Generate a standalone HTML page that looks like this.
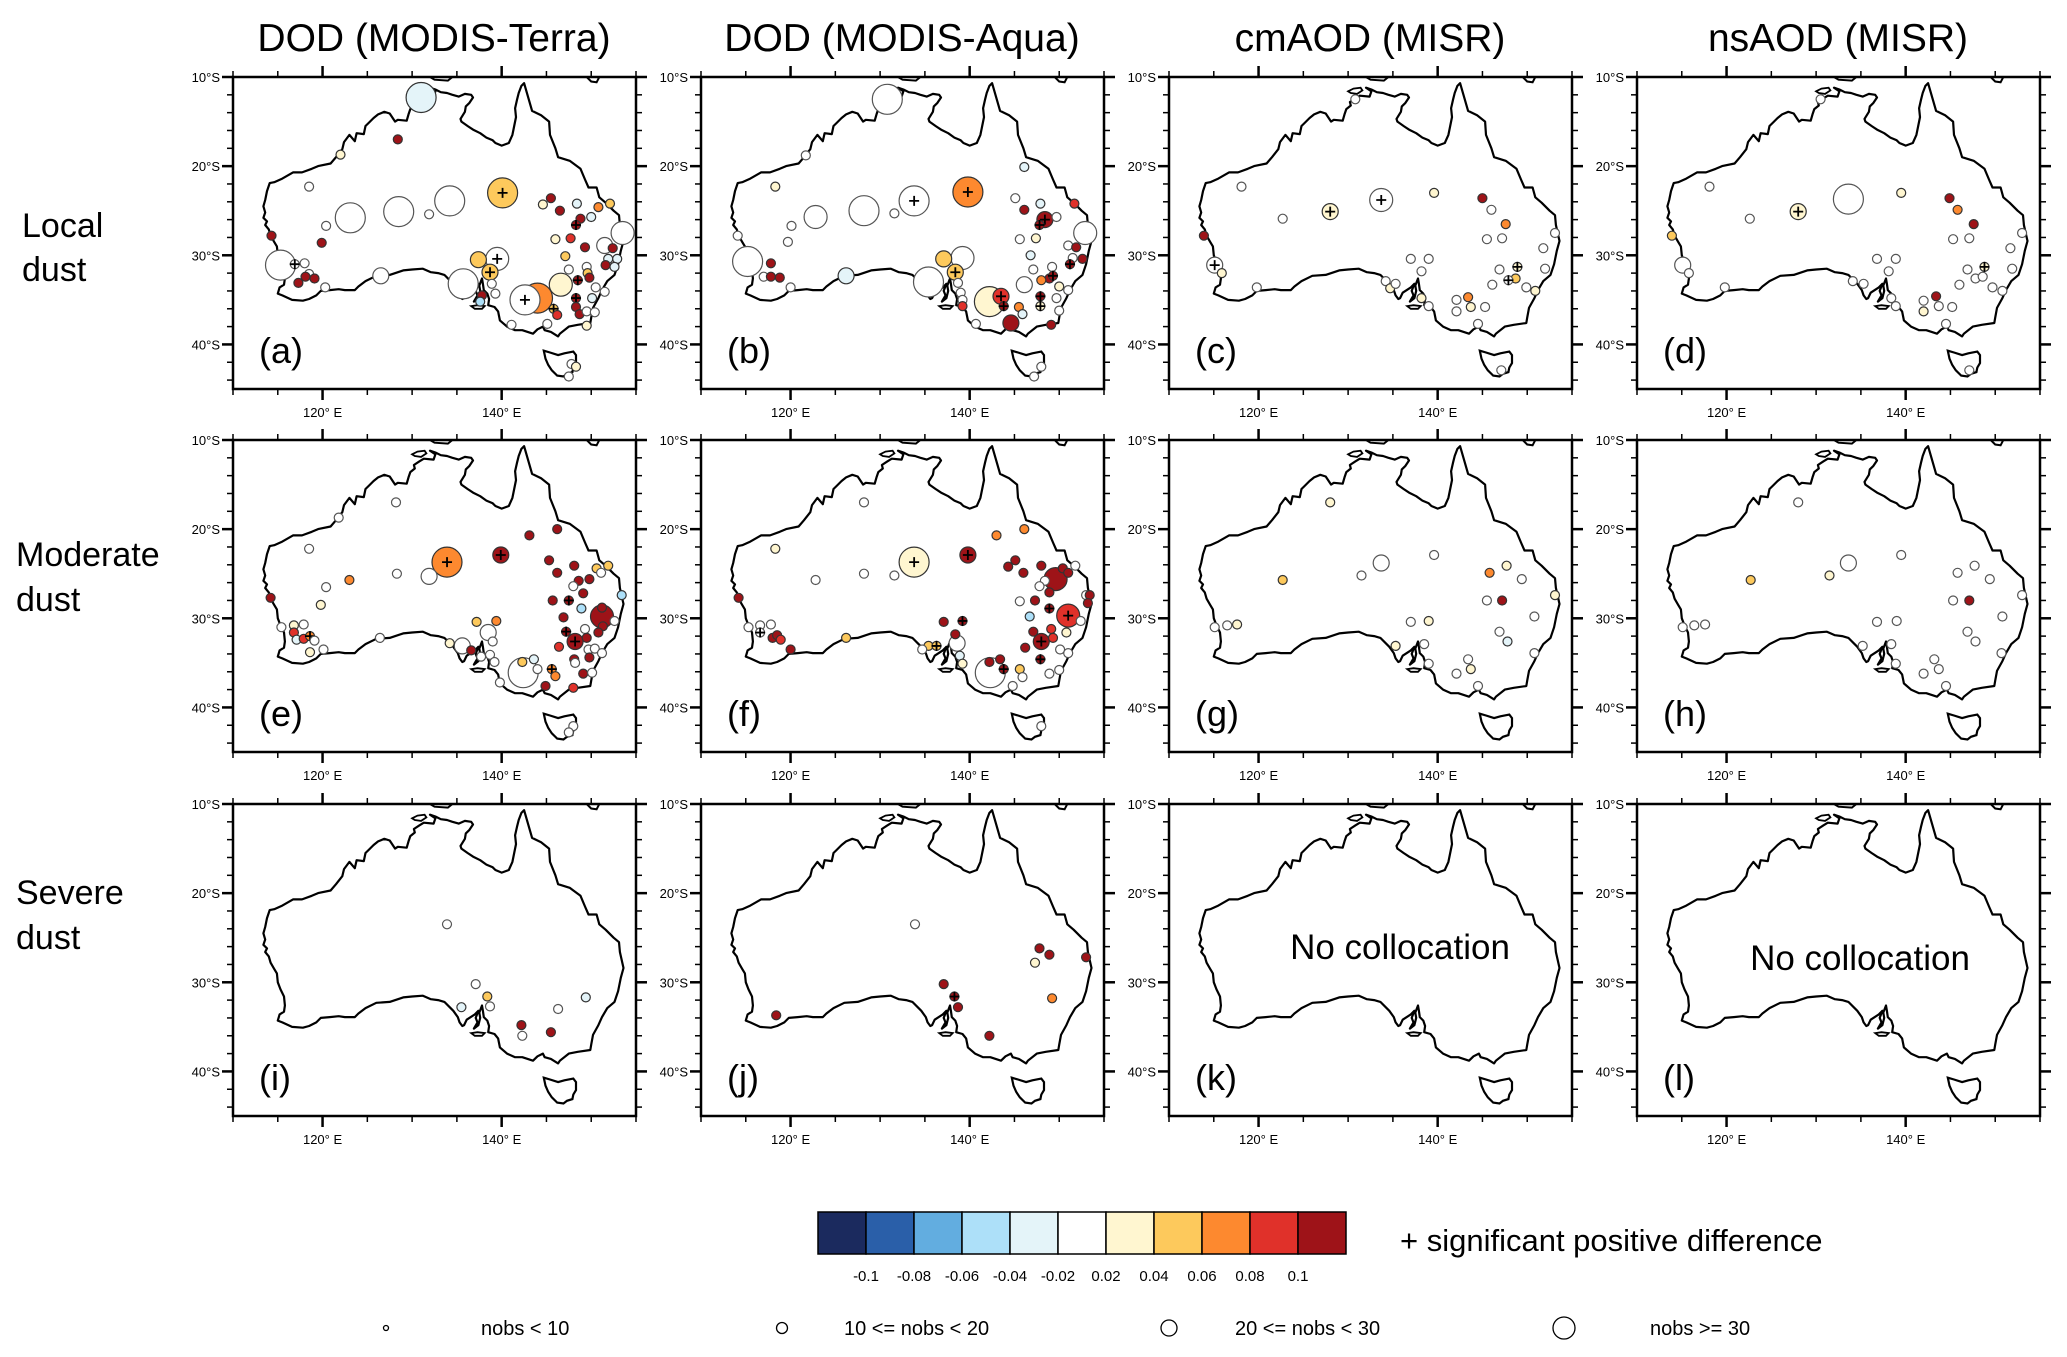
<!DOCTYPE html>
<html><head><meta charset="utf-8">
<style>
html,body{margin:0;padding:0;background:#fff;}
svg{display:block;font-family:"Liberation Sans",sans-serif;}
</style></head>
<body>
<svg id="fig" width="2067" height="1357" viewBox="0 0 2067 1357" xmlns="http://www.w3.org/2000/svg">
<g id="titles">
<text x="434" y="51" font-size="39" text-anchor="middle">DOD (MODIS-Terra)</text>
<text x="902" y="51" font-size="39" text-anchor="middle">DOD (MODIS-Aqua)</text>
<text x="1370" y="51" font-size="39" text-anchor="middle">cmAOD (MISR)</text>
<text x="1838" y="51" font-size="39" text-anchor="middle">nsAOD (MISR)</text>
</g>
<g>
<text x="22" y="237" font-size="34">Local</text>
<text x="22" y="281" font-size="34">dust</text>
<text x="16" y="566" font-size="34">Moderate</text>
<text x="16" y="611" font-size="34">dust</text>
<text x="16" y="904" font-size="34">Severe</text>
<text x="16" y="949" font-size="34">dust</text>
</g>
<g id="panels"></g>
<g id="legend"></g>
</svg>
<script>
const NS = "http://www.w3.org/2000/svg";
const colorClasses = ['#1b2a5e','#2a5fa9','#62ade0','#ade0f9','#e4f4f9','#ffffff','#fff6d0','#fdc95c','#fd892f','#e0312a','#9e1318'];
const colorTickLabels = ['-0.1','-0.08','-0.06','-0.04','-0.02','0.02','0.04','0.06','0.08','0.1'];
const sizeLabels = ['nobs < 10','10 <= nobs < 20','20 <= nobs < 30','nobs >= 30'];
const panelLetters = ['a','b','c','d','e','f','g','h','i','j','k','l'];
const latTicks = [10,12,14,16,18,20,22,24,26,28,30,32,34,36,38,40,42,44];
const lonTicks = [110,115,120,125,130,135,140,145,150,155];

// [lon, latS, colorClass, sizeClass, significant]
const dataA = [[131.0,12.3,4,3,0],[128.4,17.0,10,0,0],[122.0,18.7,6,0,0],[118.5,22.3,5,0,0],[123.1,25.8,5,3,0],[128.5,25.1,5,3,0],[134.2,23.9,5,3,0],[131.9,25.4,5,0,0],[120.4,26.7,5,0,0],[119.9,28.6,10,0,0],[114.3,27.8,10,0,0],[115.3,31.1,5,3,0],[116.9,31.0,5,0,1],[118.0,30.9,5,0,0],[117.3,33.1,10,0,0],[118.5,32.1,5,0,0],[118.1,32.4,10,0,0],[119.1,32.6,10,0,0],[120.3,33.6,5,0,0],[126.5,32.3,5,1,0],[140.1,23.0,7,3,1],[145.5,23.6,10,0,0],[146.5,25.0,10,0,0],[144.6,24.3,6,0,0],[148.4,24.2,4,0,0],[150.8,24.6,8,0,0],[152.1,24.2,7,0,0],[148.8,25.9,10,0,0],[148.3,26.6,10,0,1],[150.0,25.7,4,0,0],[153.5,27.5,5,2,0],[146.0,28.2,6,0,0],[147.7,28.1,9,0,0],[149.3,29.1,10,0,0],[151.5,28.9,5,1,0],[152.4,29.2,10,0,0],[147.1,30.1,7,0,0],[151.9,30.4,4,0,0],[152.9,30.4,4,0,0],[152.6,31.3,4,0,0],[151.6,31.1,10,0,0],[139.5,30.4,5,2,1],[137.4,30.5,7,1,0],[138.7,31.9,7,1,1],[147.5,31.6,5,0,0],[149.5,31.3,5,0,0],[149.6,32.0,7,0,0],[149.8,32.5,10,0,0],[148.5,32.8,10,0,1],[146.6,33.3,6,2,0],[135.7,33.2,5,3,0],[138.9,33.2,5,0,0],[139.3,34.3,5,0,0],[137.8,34.5,10,0,0],[137.6,35.2,3,0,0],[144.0,34.8,8,3,0],[142.6,35.0,5,3,1],[150.5,33.6,5,0,0],[151.5,34.1,5,0,0],[150.1,34.8,4,0,0],[148.3,34.8,10,0,1],[148.3,35.8,10,0,0],[145.8,36.0,7,0,1],[146.2,36.7,9,0,0],[148.7,36.6,10,0,0],[149.5,36.3,5,0,0],[150.4,36.4,5,0,0],[141.1,37.8,5,0,0],[145.1,37.7,5,0,0],[149.5,37.9,6,0,0],[147.8,42.2,5,0,0],[148.3,42.5,6,0,0],[147.5,43.6,5,0,0]];
const dataB = [[130.8,12.5,5,3,0],[121.7,18.8,5,0,0],[118.3,22.3,6,0,0],[122.8,25.7,5,2,0],[128.2,25.0,5,3,0],[133.8,23.9,5,3,1],[131.6,25.3,5,0,0],[139.8,22.9,8,3,1],[120.1,26.7,5,0,0],[119.7,28.5,5,0,0],[114.1,27.8,5,0,0],[115.2,30.7,5,3,0],[117.8,30.9,10,0,0],[117.0,32.4,5,0,0],[117.8,32.4,10,0,0],[118.8,32.5,10,0,0],[120.0,33.6,5,0,0],[126.2,32.3,4,1,0],[146.1,20.1,4,0,0],[145.1,23.6,5,0,0],[147.9,24.2,4,0,0],[146.1,24.9,10,0,0],[151.7,24.2,9,0,0],[148.4,26.0,10,1,1],[147.8,26.6,10,0,1],[149.7,25.7,5,0,0],[152.9,27.5,5,2,0],[145.6,28.2,5,0,0],[147.4,28.1,6,0,0],[151.0,28.9,5,0,0],[151.9,29.1,10,0,0],[152.6,30.4,10,0,0],[151.5,30.3,5,0,0],[146.8,30.0,4,0,0],[151.2,31.0,10,0,1],[137.1,30.4,7,1,0],[139.2,30.3,5,2,0],[138.4,31.9,7,1,1],[135.4,33.0,5,3,0],[147.1,31.6,5,0,0],[149.2,31.3,5,0,0],[148.9,32.6,10,0,0],[149.3,32.3,10,0,1],[148.0,32.8,8,0,0],[146.1,33.3,5,1,0],[150.0,33.5,6,0,0],[151.0,33.9,5,0,0],[138.7,33.1,5,0,0],[139.0,34.2,5,0,0],[139.2,35.0,5,0,0],[139.2,35.7,9,0,0],[143.5,34.6,9,1,1],[142.2,35.2,6,3,0],[143.8,35.7,10,0,1],[147.9,34.6,10,0,1],[147.9,35.7,6,0,1],[149.7,34.8,5,0,0],[145.5,35.8,8,0,0],[145.9,36.6,4,0,0],[150.0,36.2,5,0,0],[144.6,37.6,10,1,0],[140.7,37.7,5,0,0],[149.1,37.8,10,0,0],[148.0,42.5,5,0,0],[147.2,43.6,5,0,0]];
const dataC = [[118.1,22.3,5,0,0],[122.7,25.9,5,0,0],[128.0,25.1,6,1,1],[133.7,23.8,5,2,1],[139.6,23.0,6,0,0],[145.0,23.6,10,0,0],[146.0,24.9,5,0,0],[147.6,26.5,8,0,0],[145.5,28.2,5,0,0],[147.2,28.1,5,0,0],[153.1,27.5,5,0,0],[151.8,29.2,5,0,0],[113.9,27.8,10,0,0],[115.1,31.1,5,1,1],[115.9,32.0,6,0,0],[119.8,33.6,5,0,0],[130.8,12.5,5,0,0],[137.0,30.4,5,0,0],[139.0,30.4,5,0,0],[138.2,31.8,5,0,0],[146.9,31.6,5,0,0],[148.9,31.3,6,0,1],[152.0,31.5,5,0,0],[148.7,32.6,7,0,0],[147.9,32.8,5,0,1],[146.1,33.3,5,0,0],[149.9,33.6,5,0,0],[150.9,34.0,6,0,0],[134.2,32.9,5,0,0],[134.7,33.7,6,0,0],[135.3,33.2,5,0,0],[138.2,34.8,6,0,0],[139.0,35.7,5,0,0],[142.1,35.0,5,0,0],[143.4,34.7,8,0,0],[142.1,36.3,5,0,0],[143.7,35.8,6,0,0],[145.3,35.8,5,0,0],[144.5,37.7,5,0,0],[147.1,42.9,5,0,0]];
const dataD = [[118.1,22.3,5,0,0],[122.6,25.9,5,0,0],[128.0,25.1,6,1,1],[133.6,23.7,5,3,0],[139.5,23.0,6,0,0],[144.9,23.6,10,0,0],[145.8,24.9,8,0,0],[147.6,26.5,10,0,0],[145.3,28.2,5,0,0],[147.1,28.1,5,0,0],[153.0,27.5,5,0,0],[151.7,29.2,5,0,0],[113.9,27.8,7,0,0],[115.1,31.1,5,1,0],[115.8,32.0,5,0,0],[119.8,33.6,5,0,0],[130.5,12.5,5,0,0],[136.8,30.4,5,0,0],[138.9,30.4,5,0,0],[138.1,31.8,5,0,0],[146.9,31.6,5,0,0],[148.8,31.3,6,0,1],[151.9,31.5,5,0,0],[147.8,32.6,5,0,0],[148.6,32.4,5,0,0],[146.0,33.3,5,0,0],[149.7,33.6,5,0,0],[150.8,34.0,5,0,0],[134.1,32.9,5,0,0],[135.3,33.2,5,0,0],[138.4,34.8,5,0,0],[138.9,35.7,5,0,0],[142.0,35.1,5,0,0],[143.4,34.6,10,0,0],[143.7,35.7,5,0,0],[142.0,36.3,6,0,0],[145.2,35.8,5,0,0],[144.5,37.7,5,0,0],[147.1,42.9,5,0,0]];
const dataE = [[128.2,17.0,5,0,0],[121.8,18.7,5,0,0],[118.5,22.2,5,0,0],[133.9,23.7,8,3,1],[131.9,25.3,5,1,0],[128.3,25.0,5,0,0],[123.0,25.7,8,0,0],[120.4,26.5,5,0,0],[119.8,28.5,6,0,0],[114.2,27.7,10,0,0],[115.4,31.0,5,0,0],[116.8,30.8,6,0,0],[117.9,30.7,5,0,0],[116.8,31.6,9,0,0],[117.1,32.4,4,0,0],[117.9,32.3,9,0,0],[118.6,32.0,8,0,1],[119.1,32.5,5,0,0],[118.6,33.8,6,0,0],[120.1,33.5,5,0,0],[126.4,32.2,5,0,0],[139.9,22.9,10,1,1],[143.1,20.7,10,0,0],[146.2,20.0,10,0,0],[145.3,23.5,10,0,0],[148.1,24.1,10,0,0],[146.2,24.9,10,0,0],[150.6,24.4,7,0,0],[151.9,24.1,7,0,0],[151.1,24.9,5,0,0],[148.6,25.8,10,0,0],[149.8,25.6,10,0,0],[148.0,26.4,5,0,0],[149.1,27.2,10,0,0],[153.4,27.4,3,0,0],[145.7,28.0,10,0,0],[147.5,28.0,10,0,1],[148.9,28.9,3,0,0],[151.2,28.8,10,0,0],[151.2,29.8,10,2,0],[146.9,29.9,10,0,0],[152.6,30.3,5,0,0],[151.3,30.9,10,0,0],[150.8,31.6,10,0,0],[147.2,31.5,10,0,1],[149.3,31.2,5,0,0],[149.5,32.2,10,0,0],[148.2,32.6,10,1,1],[146.4,33.2,9,0,0],[149.7,33.5,5,0,0],[150.4,33.4,5,0,0],[151.2,33.9,5,0,0],[149.8,34.4,10,0,0],[148.1,34.6,10,0,0],[148.2,35.0,5,0,0],[137.2,30.4,7,0,0],[139.4,30.3,8,0,0],[138.5,31.6,5,1,0],[139.0,32.6,5,0,0],[135.6,33.1,5,1,0],[134.2,32.8,6,0,0],[136.6,33.6,10,0,0],[137.7,34.3,5,0,0],[138.7,34.1,5,0,0],[139.2,34.9,5,0,0],[142.3,34.9,7,0,0],[142.4,36.1,5,3,0],[143.6,34.6,4,0,0],[144.0,35.7,5,0,0],[145.6,35.7,8,0,1],[146.0,36.5,8,0,0],[149.1,36.2,10,0,0],[150.1,36.1,5,0,0],[144.9,37.6,10,0,0],[148.0,37.8,9,0,0],[139.8,37.2,5,0,0],[148.0,42.1,5,0,0],[147.5,42.8,5,0,0]];
const dataF = [[128.2,17.0,5,0,0],[118.3,22.2,6,0,0],[133.8,23.7,6,3,1],[131.6,25.2,5,0,0],[128.2,25.0,5,0,0],[122.8,25.7,5,0,0],[139.8,22.9,10,1,1],[143.0,20.7,8,0,0],[146.1,20.0,8,0,0],[114.2,27.7,10,0,0],[115.3,31.0,5,0,0],[116.6,30.8,5,0,0],[117.8,30.7,5,0,0],[116.6,31.6,5,0,1],[118.0,32.2,10,0,0],[118.5,31.9,10,0,0],[118.9,32.4,9,0,0],[120.0,33.5,10,0,0],[126.2,32.2,7,0,0],[145.1,23.5,10,0,0],[148.0,24.1,10,0,0],[144.3,24.2,10,0,0],[146.0,24.9,10,0,0],[150.4,24.4,10,0,0],[151.0,24.9,10,0,0],[151.8,24.1,5,0,0],[149.6,25.6,10,2,0],[148.4,25.8,5,0,0],[147.8,26.4,5,0,0],[148.9,27.1,10,0,0],[153.0,27.4,5,0,0],[153.4,27.4,10,0,0],[153.2,28.3,10,0,0],[145.6,28.1,5,0,0],[147.3,28.0,10,0,0],[148.9,28.9,10,0,1],[151.0,29.7,9,2,1],[152.4,30.3,5,0,0],[146.7,29.8,3,0,0],[137.1,30.4,10,0,0],[139.2,30.3,10,0,1],[138.4,31.8,10,0,0],[147.1,31.5,10,0,0],[149.1,31.2,9,0,0],[150.8,31.6,6,0,0],[148.0,32.6,10,1,1],[149.3,32.2,9,0,0],[146.2,33.3,10,0,0],[150.1,33.5,5,0,0],[151.0,33.9,5,0,0],[138.6,32.8,5,1,0],[135.4,33.1,7,0,0],[136.3,33.1,7,0,1],[134.7,33.5,5,0,0],[138.9,34.2,4,0,0],[139.2,35.1,6,0,0],[142.2,34.9,10,0,0],[143.4,34.6,10,0,0],[143.8,35.7,10,0,1],[142.3,36.1,5,3,0],[145.6,35.7,7,0,0],[145.9,36.6,5,0,0],[147.9,34.6,10,0,1],[148.9,36.2,5,0,0],[150.0,35.8,5,0,0],[144.8,37.6,5,0,0],[148.0,42.1,5,0,0]];
const dataG = [[128.0,17.0,6,0,0],[139.6,22.9,5,0,0],[133.7,23.8,5,1,0],[131.5,25.2,5,0,0],[122.7,25.7,7,0,0],[145.8,24.9,8,0,0],[147.7,24.1,6,0,0],[149.4,25.6,5,0,0],[153.1,27.4,6,0,0],[145.5,28.0,5,0,0],[147.2,28.0,10,0,0],[150.8,29.8,5,0,0],[115.1,31.0,5,0,0],[116.5,30.8,5,0,0],[117.6,30.7,6,0,0],[137.0,30.4,5,0,0],[139.0,30.3,6,0,0],[146.9,31.5,5,0,0],[147.8,32.6,4,0,0],[135.3,33.1,6,0,0],[138.5,32.9,5,0,0],[139.0,35.1,5,0,0],[143.4,34.6,5,0,0],[143.7,35.7,6,0,0],[142.1,36.2,5,0,0],[144.5,37.6,5,0,0],[150.8,33.9,5,0,0]];
const dataH = [[128.0,17.0,5,0,0],[139.5,22.9,5,0,0],[133.6,23.8,5,1,0],[131.5,25.2,6,0,0],[122.7,25.7,7,0,0],[145.8,24.9,5,0,0],[147.7,24.1,5,0,0],[149.4,25.6,5,0,0],[153.0,27.4,5,0,0],[145.3,28.0,5,0,0],[147.1,28.0,10,0,0],[150.8,29.8,5,0,0],[115.1,31.0,5,0,0],[116.4,30.8,5,0,0],[117.6,30.7,5,0,0],[136.8,30.4,5,0,0],[139.0,30.3,5,0,0],[146.9,31.5,5,0,0],[147.8,32.6,5,0,0],[135.2,33.1,5,0,0],[138.4,32.9,5,0,0],[138.9,35.1,5,0,0],[143.2,34.6,5,0,0],[143.7,35.7,5,0,0],[142.0,36.2,5,0,0],[144.5,37.6,5,0,0],[150.7,33.9,5,0,0]];
const dataI = [[133.9,23.5,5,0,0],[137.1,30.2,5,0,0],[138.4,31.6,7,0,0],[135.5,32.8,4,0,0],[138.7,32.7,5,0,0],[149.4,31.7,4,0,0],[146.3,33.0,5,0,0],[142.2,34.8,10,0,0],[145.5,35.6,10,0,0],[142.3,36.0,5,0,0]];
const dataJ = [[133.9,23.5,5,0,0],[147.8,26.2,10,0,0],[148.9,26.9,10,0,0],[153.0,27.2,10,0,0],[147.3,27.8,6,0,0],[137.1,30.2,10,0,0],[138.3,31.6,10,0,1],[138.7,32.8,10,0,0],[149.2,31.8,8,0,0],[118.4,33.7,10,0,0],[142.2,36.0,10,0,0]];
const dataK = [];
const dataL = [];
const allData = [dataA,dataB,dataC,dataD,dataE,dataF,dataG,dataH,dataI,dataJ,dataK,dataL];

const coast = [[142.5,10.7],[143.4,13.8],[144.4,14.3],[145.3,15.0],[145.4,16.5],[146.0,18.0],[146.3,19.0],[147.6,19.4],[148.8,20.3],[149.3,21.5],[149.7,22.4],[150.6,22.4],[150.9,23.5],[151.6,24.1],[152.5,25.0],[153.1,25.5],[153.2,26.6],[153.6,28.4],[153.3,29.5],[153.0,31.0],[152.6,32.2],[151.8,32.9],[151.2,33.9],[150.8,34.8],[150.2,35.9],[150.0,37.0],[149.9,37.6],[148.5,37.8],[147.5,38.0],[146.5,38.8],[146.3,39.1],[145.5,38.6],[144.8,38.4],[144.6,38.0],[144.0,38.3],[143.5,38.8],[142.3,38.4],[141.5,38.4],[140.6,38.0],[139.8,37.3],[139.6,36.3],[139.2,35.8],[138.5,35.6],[138.6,34.9],[138.4,34.3],[138.0,33.9],[137.9,33.2],[137.8,32.6],[137.5,33.4],[137.6,34.0],[137.4,34.8],[136.9,35.2],[137.3,34.5],[137.1,34.0],[137.4,33.2],[137.0,33.6],[136.1,34.2],[135.8,34.8],[135.6,34.9],[135.3,34.5],[135.1,33.9],[134.6,33.2],[134.2,32.8],[133.6,32.2],[132.9,32.0],[132.1,31.9],[131.2,31.5],[130.0,31.6],[129.0,31.7],[127.5,32.2],[126.0,32.3],[124.8,32.9],[124.0,33.5],[123.6,33.9],[122.5,33.9],[121.8,33.8],[120.8,33.9],[119.8,34.0],[119.3,34.5],[118.5,34.9],[117.8,35.1],[116.6,35.0],[115.5,34.5],[115.0,34.3],[115.2,33.6],[115.7,33.3],[115.8,32.6],[115.7,31.6],[115.3,30.8],[115.0,30.0],[114.9,29.0],[114.6,28.5],[114.2,27.8],[114.0,27.1],[113.6,26.6],[113.8,26.2],[113.4,25.8],[113.6,25.2],[113.4,24.5],[113.6,23.8],[113.8,22.8],[114.1,21.9],[114.6,21.8],[115.5,21.4],[116.7,20.7],[117.7,20.7],[118.8,20.3],[119.5,20.0],[120.9,19.7],[121.5,19.0],[122.2,18.1],[122.4,17.3],[123.0,16.5],[123.6,17.2],[123.8,16.3],[124.6,16.4],[124.8,15.5],[125.2,15.1],[125.7,14.6],[126.2,14.2],[126.9,13.9],[127.5,14.1],[128.1,15.0],[128.4,14.8],[129.4,14.9],[129.6,14.2],[129.8,13.6],[130.3,13.2],[130.2,12.8],[130.8,12.4],[131.3,12.1],[132.4,12.2],[132.6,11.6],[132.0,11.2],[132.6,11.4],[133.2,11.7],[133.9,11.8],[134.5,12.0],[135.2,12.2],[135.9,11.9],[136.6,12.0],[136.8,12.3],[136.4,12.9],[136.0,13.3],[135.9,13.9],[135.4,14.7],[135.5,15.0],[136.2,15.5],[136.8,15.9],[137.6,16.3],[138.3,16.8],[139.0,17.1],[139.3,17.4],[140.0,17.7],[140.8,17.4],[141.2,16.5],[141.4,15.5],[141.6,14.5],[141.5,13.5],[141.7,12.6],[141.9,11.8],[142.2,11.0],[142.5,10.7]];
const tasmania = [[144.7,40.7],[145.4,40.9],[146.3,41.2],[147.0,41.0],[148.0,40.8],[148.3,41.2],[148.3,42.1],[148.0,42.6],[147.9,43.1],[147.3,43.3],[146.9,43.6],[146.2,43.5],[145.6,42.9],[145.2,42.3],[144.9,41.6],[144.7,40.7]];
const melville = [[130.0,11.6],[130.6,11.3],[131.4,11.2],[131.6,11.5],[131.0,11.9],[130.3,11.8],[130.0,11.6]];
const kangaroo = [[136.6,35.7],[137.3,35.6],[138.1,35.7],[137.8,36.0],[137.0,36.0],[136.6,35.7]];
const newGuinea = [[132.0,10.0],[132.5,10.3],[134.0,10.4],[134.5,10.0]];
const newGuinea2 = [[149.5,10.0],[150.0,10.5],[150.6,10.6],[150.9,10.0]];

const colX = [233,701,1169,1637];
const rowY = [77,440,804];
const PW = 403, PH = 312;
const radii = [4.5,8,11.5,15];

function el(tag, attrs, parent){ const e=document.createElementNS(NS,tag); for(const k in attrs) e.setAttribute(k,attrs[k]); if(parent) parent.appendChild(e); return e; }

const panelsG = document.getElementById('panels');
for(let p=0;p<12;p++){
  const c=p%4, r=Math.floor(p/4);
  const x0=colX[c], y0=rowY[r];
  const xs = lon => x0 + (lon-110)/45*PW;
  const ys = lat => y0 + (lat-10)/35*PH;
  const g = el('g',{},panelsG);
  
  
  const clipId='clip'+p;
  const cp=el('clipPath',{id:clipId},g); el('rect',{x:x0,y:y0,width:PW,height:PH},cp);
  const inner=el('g',{'clip-path':'url(#'+clipId+')'},g);
  const poly = (pts, closed) => pts.map((q,i)=>(i?'L':'M')+xs(q[0]).toFixed(1)+' '+ys(q[1]).toFixed(1)).join(' ')+(closed?' Z':'');
  const land=el('path',{d:poly(coast,true),fill:'none',stroke:'#000','stroke-width':2.2,'stroke-linejoin':'round'},inner);
  
  
  const tas=el('path',{d:poly(tasmania,true),fill:'none',stroke:'#000','stroke-width':2.2},inner);
  
  
  el('path',{d:poly(melville,true),fill:'none',stroke:'#000','stroke-width':1.8},inner);
  el('path',{d:poly(kangaroo,true),fill:'none',stroke:'#000','stroke-width':1.8},inner);
  el('path',{d:poly(newGuinea,false),fill:'none',stroke:'#000','stroke-width':2},inner);
  el('path',{d:poly(newGuinea2,false),fill:'none',stroke:'#000','stroke-width':2},inner);
  const pts = allData[p].slice().sort((a,b)=>b[3]-a[3]);
  pts.forEach(d=>{
    const cx=xs(d[0]), cy=ys(d[1]), rr=radii[d[3]];
    const ci=el('circle',{cx:cx.toFixed(1),cy:cy.toFixed(1),r:rr,fill:colorClasses[d[2]],stroke:d[2]===5?'#555':'#333','stroke-width':1.2},inner);
    
    
    if(d[4]){
      const pl=el('path',{d:`M${cx-5} ${cy}H${cx+5}M${cx} ${cy-5}V${cy+5}`,stroke:'#000','stroke-width':1.8},inner);
      
      
    }
  });
  const fr=el('rect',{x:x0,y:y0,width:PW,height:PH,fill:'none',stroke:'#000','stroke-width':2.5},g);
  
  
  latTicks.forEach(lat=>{
    const y=ys(lat), maj=lat%10===0, L=maj?11:6, w=maj?2.5:1.5;
    el('line',{x1:x0-L,x2:x0,y1:y,y2:y,stroke:'#000','stroke-width':w},g);
    el('line',{x1:x0+PW,x2:x0+PW+L,y1:y,y2:y,stroke:'#000','stroke-width':w},g);
    if(maj){
      const t=el('text',{x:x0-13,y:y+5,'font-size':13,'text-anchor':'end'},g);
      t.textContent=lat+'°S';
      
      
    }
  });
  lonTicks.forEach(lon=>{
    const x=xs(lon), maj=(lon===120||lon===140), L=maj?11:6, w=maj?2.5:1.5;
    el('line',{x1:x,x2:x,y1:y0-L,y2:y0,stroke:'#000','stroke-width':w},g);
    el('line',{x1:x,x2:x,y1:y0+PH,y2:y0+PH+L,stroke:'#000','stroke-width':w},g);
    if(maj){
      const t=el('text',{x:x,y:y0+PH+28,'font-size':13,'text-anchor':'middle'},g);
      t.textContent=lon+'° E';
      
      
    }
  });
  const lab=el('text',{x:x0+26,y:y0+286,'font-size':36},g);
  lab.textContent='('+panelLetters[p]+')';
  
  
}
[[1400,959],[1860,970]].forEach(q=>{
  const t=el('text',{x:q[0],y:q[1],'font-size':35,'text-anchor':'middle'},panelsG);
  t.textContent='No collocation';
  
  
});
const lg=document.getElementById('legend');
const cbX=818, cbW=48, cbY=1212, cbH=42;
colorClasses.forEach((col,i)=>{
  const b=el('rect',{x:cbX+i*cbW,y:cbY,width:cbW,height:cbH,fill:col,stroke:'#000','stroke-width':1.5},lg);
  
  
});
colorTickLabels.forEach((s,i)=>{
  const t=el('text',{x:cbX+(i+1)*cbW,y:1281,'font-size':15,'text-anchor':'middle'},lg);
  t.textContent=s;
  
  
});
const sig=el('text',{x:1400,y:1251,'font-size':31},lg);
sig.textContent='+  significant positive difference';


const sizeCx=[386,782,1169,1564], sizeR=[2.5,5.5,8,11], sizeTx=[481,844,1235,1650];
sizeLabels.forEach((s,i)=>{
  const c=el('circle',{cx:sizeCx[i],cy:1328,r:sizeR[i],fill:'#fff',stroke:'#000','stroke-width':1.3},lg);
  
  
  const t=el('text',{x:sizeTx[i],y:1335,'font-size':20},lg);
  t.textContent=s;
  
  
});
</script>
</body></html>
